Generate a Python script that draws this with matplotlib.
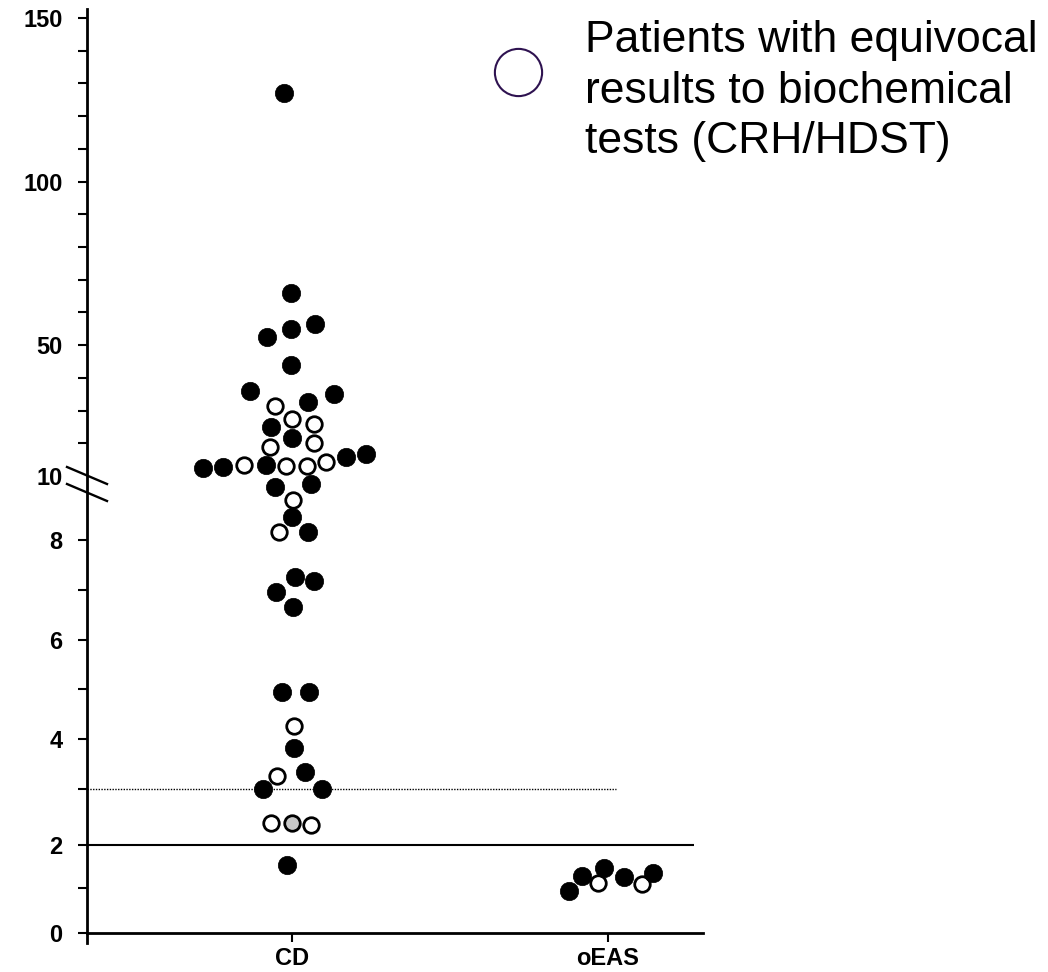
import matplotlib
matplotlib.use("Agg")
import matplotlib.pyplot as plt
import numpy as np
from matplotlib.lines import Line2D

plt.rcParams["font.family"] = ["Liberation Sans", "DejaVu Sans"]

# Categories on the x axis
categories = ["CD", "oEAS"]

# CD group: value, horizontal spread (in category widths), kind (f = filled, o = open/equivocal, g = grey)
cd_values = [127, 66.0, 52.4, 55.0, 56.4, 43.9, 36.0, 35.2, 31.5, 32.5,
             27.3, 25.8, 25.0, 21.6, 20.0, 19.0, 12.4, 12.7, 13.3, 13.3,
             13.1, 13.1, 14.4, 15.9, 16.8, 9.65, 9.74, 9.25, 8.73, 8.24,
             8.24, 7.26, 7.18, 6.96, 6.66, 4.94, 4.94, 4.27, 3.82, 3.27,
             3.35, 3.01, 3.01, 2.40, 2.40, 2.35, 1.53]
cd_jitter = [-0.025, -0.003, -0.078, -0.004, 0.073, -0.003, -0.133, 0.134, -0.055, 0.050,
             0.001, 0.071, -0.067, 0.001, 0.071, -0.070, -0.281, -0.217, -0.151, -0.083,
             -0.019, 0.047, 0.108, 0.170, 0.234, -0.054, 0.059, 0.004, 0.001, -0.041,
             0.052, 0.009, 0.071, -0.052, 0.004, -0.031, 0.054, 0.005, 0.005, -0.047,
             0.040, -0.091, 0.096, -0.066, 0.001, 0.059, -0.017]
cd_kind = ["f", "f", "f", "f", "f", "f", "f", "f", "o", "f",
           "o", "o", "f", "f", "o", "o", "f", "f", "o", "f",
           "o", "o", "o", "f", "f", "f", "f", "o", "f", "o",
           "f", "f", "f", "f", "f", "f", "f", "o", "f", "o",
           "f", "f", "f", "o", "g", "o", "f"]

# oEAS group
oeas_values = [0.93, 1.28, 1.13, 1.47, 1.25, 1.09, 1.36]
oeas_jitter = [-0.122, -0.083, -0.031, -0.012, 0.051, 0.107, 0.143]
oeas_kind = ["f", "f", "o", "f", "f", "o", "f"]

# Reference lines
solid_cutoff = 2
dotted_cutoff = 3

y_major = [0, 2, 4, 6, 8, 10, 50, 100, 150]
y_minor = [1, 3, 5, 7, 20, 30, 40, 60, 70, 80, 90, 110, 120, 130, 140]

legend_text = "Patients with equivocal\nresults to biochemical\ntests (CRH/HDST)"

# Broken axis: piecewise linear scale (lower part 0-10, upper part 10-150)
knot_val = [-5, 0, 1, 2, 3, 8, 10, 150, 300]
knot_pos = [-225, 0, 45, 88, 144, 393, 457, 915, 1405.7]

def func_forward(v):
    return np.interp(v, knot_val, knot_pos)

def func_inverse(p):
    return np.interp(p, knot_pos, knot_val)


fig = plt.figure(figsize=(10.48, 9.72), dpi=100)
ax = fig.add_axes([87 / 1048, 29 / 972, 616 / 1048, 934 / 972])
ax.set_yscale("function", functions=(func_forward, func_inverse))
ax.set_ylim(-0.22, 152.75)
ax.set_xlim(-0.649, 1.301)

# Cut-off lines
ax.hlines(solid_cutoff, -0.649, 1.272, color="black", lw=1.5, zorder=1)
ax.hlines(dotted_cutoff, -0.649, 1.025, color="black", lw=1.0, linestyles=(0, (1, 1)), zorder=1)

dict_style = {
    "f": dict(marker="o", s=175, facecolor="black", edgecolor="black", linewidths=0.5),
    "o": dict(marker="o", s=125, facecolor="white", edgecolor="black", linewidths=2.0),
    "g": dict(marker="o", s=125, facecolor="#c8c8c8", edgecolor="black", linewidths=2.0),
}

for i_cat, (l_vals, l_jit, l_kind) in enumerate([(cd_values, cd_jitter, cd_kind),
                                                  (oeas_values, oeas_jitter, oeas_kind)]):
    for v, j, k in zip(l_vals, l_jit, l_kind):
        ax.scatter([i_cat + j], [v], zorder=3, **dict_style[k])

# Axes styling
for str_side in ["top", "right"]:
    ax.spines[str_side].set_visible(False)
ax.spines["bottom"].set_position(("data", 0))
ax.spines["left"].set_linewidth(2.0)
ax.spines["bottom"].set_linewidth(2.0)

ax.set_xticks(range(len(categories)))
ax.set_xticklabels(categories)
ax.set_yticks(y_major)
ax.set_yticklabels([str(i) for i in y_major])
ax.set_yticks(y_minor, minor=True)
ax.yaxis.set_minor_formatter(matplotlib.ticker.NullFormatter())
ax.tick_params(axis="y", which="both", direction="out", length=6.5, width=1.5,
               labelsize=17, pad=11)
ax.tick_params(axis="x", direction="out", length=6.5, width=1.5, labelsize=17, pad=3.5)
for lbl in ax.get_yticklabels() + ax.get_xticklabels():
    lbl.set_fontweight("bold")
for tick in ax.yaxis.get_major_ticks():
    if tick.get_loc() == 10:
        tick.tick1line.set_visible(False)

# Axis break marks
for y0 in [467, 484]:
    fig.add_artist(Line2D([67 / 1048, 107 / 1048], [1 - y0 / 972, 1 - (y0 + 17) / 972],
                          color="black", lw=1.7))

# Legend-like key
fig.add_artist(Line2D([518 / 1048], [1 - 72 / 972], marker="o", markersize=34,
                      markerfacecolor="white", markeredgecolor="#2e1250",
                      markeredgewidth=1.5, linestyle="none"))
fig.text(585 / 1048, 1 - 20 / 972, legend_text, fontsize=32, va="top", ha="left",
         linespacing=1.3)

plt.savefig("out.png", dpi=100)
plt.close()
